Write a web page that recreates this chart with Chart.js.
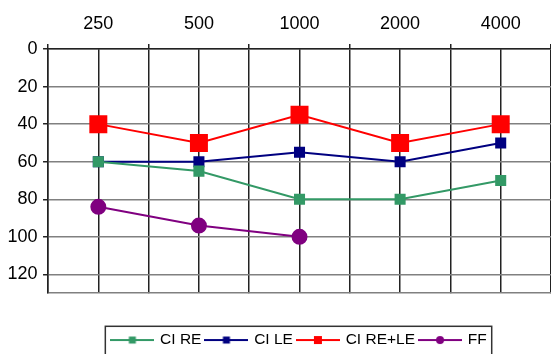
<!DOCTYPE html>
<html>
<head>
<meta charset="utf-8">
<script src="https://cdn.jsdelivr.net/npm/chart.js@4"></script>
<style>
  html, body { margin: 0; padding: 0; background: #fff; overflow: hidden; }
  #wrap { width: 551px; height: 354px; }
</style>
</head>
<body>
<div id="wrap"><canvas id="audioChart" width="551" height="354"></canvas></div>
<script>
Chart.defaults.font.family = '"Liberation Sans", Arial, sans-serif';
Chart.defaults.color = '#000000';

const frequencies = ["250", "500", "1000", "2000", "4000"];
const ciRe = [60, 65, 80, 80, 70];
const ciLe = [60, 60, 55, 60, 50];
const ciBoth = [40, 50, 35, 50, 40];
const freeField = [84, 94, 100, null, null];
const yTicks = [0, 20, 40, 60, 80, 100, 120];

// little line + marker pictures for the legend
const legendIcon = (color, shape, size) => {
  const c = document.createElement('canvas');
  c.width = 44;
  c.height = 12;
  const ctx = c.getContext('2d');
  ctx.strokeStyle = color;
  ctx.lineWidth = 2;
  ctx.beginPath();
  ctx.moveTo(0, 6);
  ctx.lineTo(44, 6);
  ctx.stroke();
  ctx.fillStyle = color;
  if (shape === 'circle') {
    ctx.beginPath();
    ctx.arc(22, 6, size / 2, 0, Math.PI * 2);
    ctx.fill();
  } else {
    ctx.fillRect(22 - size / 2, 6 - size / 2, size, size);
  }
  return c;
};

const icons = [
  legendIcon('#339966', 'rect', 7),
  legendIcon('#000080', 'rect', 7),
  legendIcon('#ff0000', 'rect', 8),
  legendIcon('#800080', 'circle', 8)
];

// frame round the legend, like the original
const legendBox = {
  id: 'legendBox',
  afterDraw(chart) {
    const boxes = chart.legend.legendHitBoxes;
    if (!boxes || !boxes.length) return;
    const first = boxes[0];
    const last = boxes[boxes.length - 1];
    const ctx = chart.ctx;
    ctx.save();
    ctx.strokeStyle = '#333333';
    ctx.lineWidth = 1.5;
    ctx.strokeRect(first.left - 7, first.top - 6, last.left + last.width - first.left + 12, first.height + 30);
    ctx.restore();
  }
};

const chartData = {
  labels: frequencies,
  datasets: [
    {
      label: 'CI RE',
      data: ciRe,
      borderColor: '#339966',
      backgroundColor: '#339966',
      pointStyle: 'rect',
      pointRadius: 6.4,
      borderWidth: 2
    },
    {
      label: 'CI LE',
      data: ciLe,
      borderColor: '#000080',
      backgroundColor: '#000080',
      pointStyle: 'rect',
      pointRadius: 6.4,
      borderWidth: 2
    },
    {
      label: 'CI RE+LE',
      data: ciBoth,
      borderColor: '#ff0000',
      backgroundColor: '#ff0000',
      pointStyle: 'rect',
      pointRadius: 11.3,
      borderWidth: 2
    },
    {
      label: 'FF',
      data: freeField,
      borderColor: '#800080',
      backgroundColor: '#800080',
      pointStyle: 'circle',
      pointRadius: 7,
      borderWidth: 2
    }
  ]
};

const chartOptions = {
  responsive: false,
  animation: false,
  layout: { autoPadding: false, padding: { left: 2, top: 3.6, right: 0, bottom: -3.8 } },
  elements: {
    point: { borderWidth: 0, hoverRadius: 7 },
    line: { tension: 0 }
  },
  scales: {
    x: {
      type: 'category',
      position: 'top',
      offset: true,
      grid: { offset: true, color: '#222222', lineWidth: 1.5, tickLength: 5 },
      border: { color: '#222222', width: 1.5 },
      ticks: { font: { size: 18 }, padding: 9.4, color: '#000' }
    },
    // second axis only to put grid lines through the category centres
    x2: {
      type: 'category',
      position: 'bottom',
      labels: frequencies,
      offset: true,
      grid: { offset: false, color: '#222222', lineWidth: 1.5, drawTicks: false },
      border: { display: false },
      ticks: { display: true, padding: 0, font: { size: 1 }, callback: () => '' }
    },
    y: {
      reverse: true,
      min: 0,
      max: 130,
      afterBuildTicks: (axis) => {
        axis.ticks = yTicks.map(v => ({ value: v })).concat([{ value: 130 }]);
      },
      grid: {
        color: '#808080',
        lineWidth: 1.5,
        tickLength: 5,
        tickColor: (c) => c.tick && c.tick.value === 130 ? 'rgba(0,0,0,0)' : '#222222'
      },
      border: { color: '#222222', width: 1.5 },
      ticks: {
        font: { size: 18 },
        padding: 5.5,
        color: '#000',
        callback: (v) => yTicks.includes(v) ? v : ''
      }
    }
  },
  plugins: {
    legend: {
      position: 'bottom',
      fullSize: false,
      title: { display: true, text: '', padding: { top: 18.5, bottom: 0 } },
      labels: {
        usePointStyle: true,
        pointStyleWidth: 40,
        padding: 5,
        font: { size: 15.5 },
        color: '#000',
        generateLabels: (chart) => {
          const items = Chart.defaults.plugins.legend.labels.generateLabels(chart);
          items.forEach((item, i) => { item.pointStyle = icons[i]; });
          return items;
        }
      }
    },
    tooltip: { enabled: false }
  }
};

const audioChart = new Chart(document.getElementById('audioChart'), {
  type: 'line',
  data: chartData,
  options: chartOptions,
  plugins: [legendBox]
});
</script>
</body>
</html>
